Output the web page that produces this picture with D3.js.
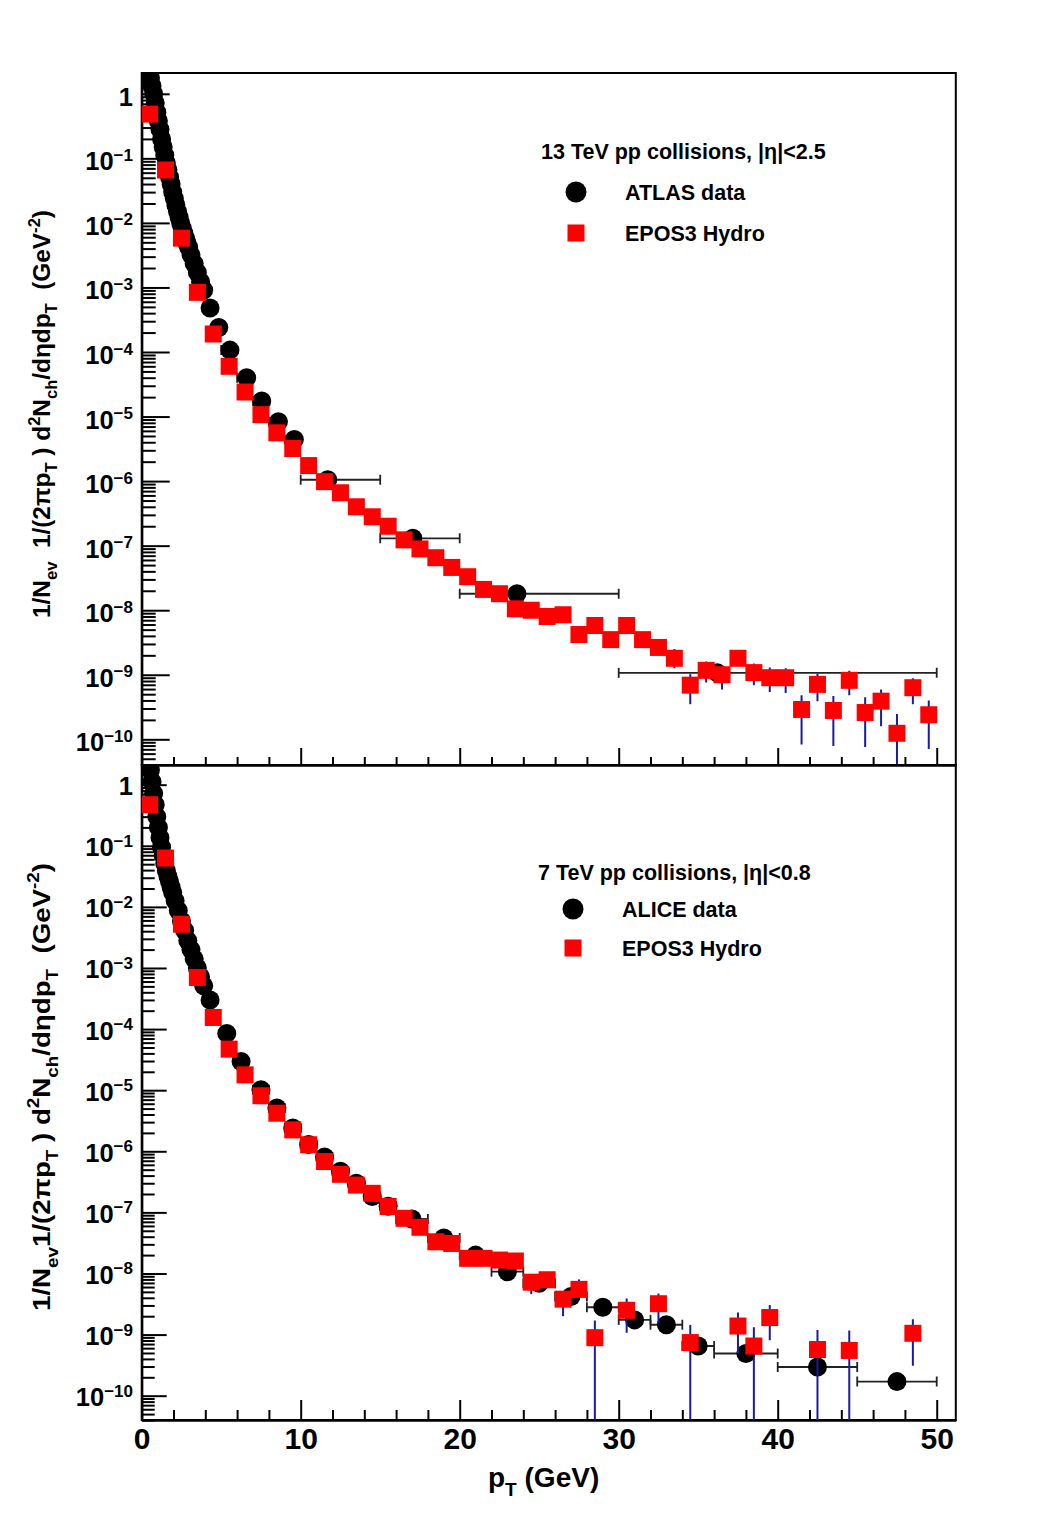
<!DOCTYPE html>
<html><head><meta charset="utf-8">
<script src="https://cdn.jsdelivr.net/npm/d3@7"></script>
<style>body{margin:0;background:#fff}svg text{white-space:pre}</style>
</head><body>
<svg id="c" width="1061" height="1536"></svg>
<script>
// ---------------- DATA ----------------
// Top panel: 13 TeV, ATLAS data (black circles) with x bin edges
const atlas_pt  = [0.55,0.65,0.75,0.85,0.95,1.05,1.15,1.25,1.35,1.45,1.55,1.65,1.75,1.85,1.95,2.05,2.15,2.25,2.35,2.45,2.55,2.65,2.75,2.85,2.95,3.1,3.3,3.5,3.7,3.9,4.3,4.85,5.55,6.6,7.55,8.6,9.6,11.7,17.05,23.6,36.2];
const atlas_val = [1.75,1.32,1.0,0.72,0.52,0.38,0.28,0.20,0.15,0.112,0.085,0.066,0.051,0.040,0.030,0.024,0.019,0.0151,0.0123,0.0100,0.0083,0.0069,0.0058,0.0049,0.0042,0.0032,0.00234,0.0017,0.00123,0.00091,4.8e-4,2.4e-4,1.07e-4,4.0e-5,1.74e-5,8.3e-6,4.4e-6,1.05e-6,1.3e-7,1.8e-8,1.07e-9];
const atlas_xlo = [0.5,0.6,0.7,0.8,0.9,1.0,1.1,1.2,1.3,1.4,1.5,1.6,1.7,1.8,1.9,2.0,2.1,2.2,2.3,2.4,2.5,2.6,2.7,2.8,2.9,3.0,3.2,3.4,3.6,3.8,4.0,4.5,5.0,6.0,7.0,8.0,9.0,10,15,20,30];
const atlas_xhi = [0.6,0.7,0.8,0.9,1.0,1.1,1.2,1.3,1.4,1.5,1.6,1.7,1.8,1.9,2.0,2.1,2.2,2.3,2.4,2.5,2.6,2.7,2.8,2.9,3.0,3.2,3.4,3.6,3.8,4.0,4.5,5.0,6.0,7.0,8.0,9.0,10,15,20,30,50];

// Top panel: EPOS3 Hydro (red squares)
const epos13_pt  = [0.5,1.5,2.5,3.5,4.5,5.5,6.5,7.5,8.5,9.5,10.5,11.5,12.5,13.5,14.5,15.5,16.5,17.5,18.5,19.5,20.5,21.5,22.5,23.5,24.5,25.5,26.5,27.5,28.5,29.5,30.5,31.5,32.5,33.5,34.5,35.5,36.5,37.5,38.5,39.5,40.5,41.5,42.5,43.5,44.5,45.5,46.5,47.5,48.5,49.5];
const epos13_val = [0.485,0.066,0.0058,8.4e-4,1.9e-4,6.0e-5,2.4e-5,1.07e-5,5.6e-6,3.2e-6,1.74e-6,9.8e-7,6.6e-7,4.0e-7,2.8e-7,2.0e-7,1.23e-7,8.9e-8,6.5e-8,4.6e-8,3.3e-8,2.1e-8,1.8e-8,1.05e-8,1.0e-8,8.0e-9,8.5e-9,4.2e-9,5.8e-9,3.5e-9,5.8e-9,3.5e-9,2.65e-9,1.8e-9,6.9e-10,1.17e-9,1.0e-9,1.8e-9,1.08e-9,9.0e-10,9.0e-10,2.9e-10,7.1e-10,2.8e-10,8.2e-10,2.6e-10,3.9e-10,1.24e-10,6.3e-10,2.4e-10];
// vertical error bars (bounds) of EPOS3 13 TeV where visible
const epos13_err_pt = [33.5,34.5,35.5,36.5,37.5,38.5,39.5,40.5,41.5,42.5,43.5,44.5,45.5,46.5,47.5,48.5,49.5];
const epos13_err_lo = [1.26e-9,3.5e-10,7.6e-10,5.9e-10,1.5e-9,6.9e-10,5.4e-10,5.2e-10,8.3e-11,3.9e-10,7.9e-11,4.8e-10,7.6e-11,1.6e-10,1e-12,3.5e-10,7.1e-11];
const epos13_err_hi = [2.5e-9,1.02e-9,1.6e-9,1.38e-9,2.2e-9,1.49e-9,1.29e-9,1.26e-9,4.8e-10,1.04e-9,4.7e-10,1.15e-9,4.5e-10,5.9e-10,2.46e-10,8.8e-10,4.0e-10];

// Bottom panel: 7 TeV, ALICE data (black circles)
const alice_pt  = [0.55,0.65,0.75,0.85,0.95,1.05,1.15,1.25,1.35,1.45,1.55,1.65,1.75,1.85,1.95,2.1,2.3,2.5,2.7,2.9,3.1,3.3,3.5,3.7,3.9,4.3,5.35,6.25,7.5,8.5,9.5,10.5,11.5,12.5,13.5,14.5,15.5,17,19,21,23,25,27,29,31,33,35,38,42.5,47.5];
const alice_val = [1.74,1.12,0.72,0.47,0.30,0.20,0.135,0.095,0.069,0.051,0.039,0.0316,0.0257,0.0209,0.017,0.0126,0.0087,0.0059,0.0041,0.0028,0.0020,0.00141,0.0010,7.1e-4,5.1e-4,3.0e-4,8.5e-5,2.95e-5,1.02e-5,5.1e-6,2.4e-6,1.29e-6,8.1e-7,4.7e-7,3.0e-7,1.82e-7,1.26e-7,7.8e-8,3.8e-8,2.0e-8,1.07e-8,6.9e-9,4.2e-9,2.8e-9,1.74e-9,1.45e-9,6.5e-10,4.9e-10,2.95e-10,1.7e-10];
const alice_xlo = [0.5,0.6,0.7,0.8,0.9,1.0,1.1,1.2,1.3,1.4,1.5,1.6,1.7,1.8,1.9,2.0,2.2,2.4,2.6,2.8,3.0,3.2,3.4,3.6,3.8,4.0,5.0,6.0,7,8,9,10,11,12,13,14,15,16,18,20,22,24,26,28,30,32,34,36,40,45];
const alice_xhi = [0.6,0.7,0.8,0.9,1.0,1.1,1.2,1.3,1.4,1.5,1.6,1.7,1.8,1.9,2.0,2.2,2.4,2.6,2.8,3.0,3.2,3.4,3.6,3.8,4.0,4.6,5.7,6.5,8,9,10,11,12,13,14,15,16,18,20,22,24,26,28,30,32,34,36,40,45,50];

// Bottom panel: EPOS3 Hydro (red squares)
const epos7_pt  = [0.5,1.5,2.5,3.5,4.5,5.5,6.5,7.5,8.5,9.5,10.5,11.5,12.5,13.5,14.5,15.5,16.5,17.5,18.5,19.5,20.5,21.5,22.5,23.5,24.5,25.5,26.5,27.5,28.5,30.5,32.5,34.5,37.5,38.5,39.5,42.5,44.5,48.5];
const epos7_val = [0.47,0.063,5.2e-3,7.0e-4,1.55e-4,4.7e-5,1.78e-5,8.1e-6,4.2e-6,2.24e-6,1.28e-6,6.8e-7,4.2e-7,2.8e-7,2.05e-7,1.25e-7,8.0e-8,5.7e-8,3.3e-8,3.1e-8,1.77e-8,1.77e-8,1.66e-8,1.6e-8,7.2e-9,7.9e-9,3.8e-9,5.5e-9,8.9e-10,2.5e-9,3.2e-9,7.4e-10,1.38e-9,6.5e-10,1.9e-9,5.7e-10,5.5e-10,1.05e-9];
const epos7_err_pt = [24.5,26.5,27.5,28.5,30.5,32.5,34.5,37.5,38.5,39.5,42.5,44.5,48.5];
const epos7_err_lo = [4.6e-9,2.0e-9,4.5e-9,1e-12,1.07e-9,1.53e-9,1e-12,4.9e-10,1e-12,8.1e-10,1e-12,1e-12,3.1e-10];
const epos7_err_hi = [7.2e-9,4.5e-9,8.0e-9,1.7e-9,3.9e-9,4.7e-9,1.44e-9,2.3e-9,1.32e-9,3.05e-9,1.19e-9,1.17e-9,1.78e-9];

// Axis ticks / labels
const xTickValues = [0,10,20,30,40,50];
const xMinorValues = [2,4,6,8,12,14,16,18,22,24,26,28,32,34,36,38,42,44,46,48];
const yTickExponents = [0,-1,-2,-3,-4,-5,-6,-7,-8,-9,-10];
const legendTop = ["13 TeV pp collisions, |\u03b7|<2.5","ATLAS data","EPOS3 Hydro"];
const legendBottom = ["7 TeV pp collisions, |\u03b7|<0.8","ALICE data","EPOS3 Hydro"];
const xTitle = [{t:"p"},{t:"T",sub:true},{t:" (GeV)"}];
const yTitleTop = [{t:"1/N"},{t:"ev",sub:true},{t:"  1/(2\u03c0p"},{t:"T",sub:true},{t:" ) d"},{t:"2",sup:true},{t:"N"},{t:"ch",sub:true},{t:"/d\u03b7dp"},{t:"T",sub:true},{t:"  (GeV"},{t:"-2",sup:true},{t:")"}];
const yTitleBottom = [{t:"1/N"},{t:"ev",sub:true},{t:"1/(2\u03c0p"},{t:"T",sub:true},{t:" ) d"},{t:"2",sup:true},{t:"N"},{t:"ch",sub:true},{t:"/d\u03b7dp"},{t:"T",sub:true},{t:"  (GeV"},{t:"-2",sup:true},{t:")"}];

// ---------------- DRAWING ----------------
const FONT = "'Liberation Sans', Arial, Helvetica, sans-serif";
const BLUE = "#1a1aa6";
const svg = d3.select('#c');
svg.append('rect').attr('width',1061).attr('height',1536).attr('fill','#fff');

const X0 = 141.7, X1 = 955.8;
const x = d3.scaleLinear().domain([0, 51.2]).range([X0, X1]);
const yDomain = [4e-11, 2.1];

function rich(textSel, segs, size) {
  let cur = 0;
  segs.forEach(s => {
    const target = s.sub ? size*0.32 : (s.sup ? -size*0.45 : 0);
    const ts = textSel.append('tspan').text(s.t).attr('dy', target - cur);
    if (s.sub || s.sup) ts.attr('font-size', size*0.68);
    cur = target;
  });
}

function panel(p) {
  const y = d3.scaleLog().domain(yDomain).range([p.bottom, p.top]);
  const g = svg.append('g');
  const clipId = 'clip' + p.id;
  svg.append('clipPath').attr('id', clipId).append('rect')
    .attr('x', X0).attr('y', p.top).attr('width', X1 - X0).attr('height', p.bottom - p.top);

  // y axis
  const majors = yTickExponents.map(e => Math.pow(10, e));
  const minors = [];
  for (let k = -11; k <= 0; k++) for (let m = 2; m <= 9; m++) {
    const v = m * Math.pow(10, k);
    if (v >= yDomain[0] && v <= yDomain[1]) minors.push(v);
  }
  const ya1 = g.append('g').attr('transform', `translate(${X0},0)`)
    .call(d3.axisLeft(y).tickValues(minors).tickSize(-p.yMin).tickSizeOuter(0).tickFormat(''));
  const ya2 = g.append('g').attr('transform', `translate(${X0},0)`)
    .call(d3.axisLeft(y).tickValues(majors).tickSize(-p.yMaj).tickSizeOuter(0).tickFormat(''));
  // x axis
  const xa1 = g.append('g').attr('transform', `translate(0,${p.bottom})`)
    .call(d3.axisBottom(x).tickValues(xMinorValues).tickSize(-p.xMin).tickSizeOuter(0).tickFormat(''));
  const xa2 = g.append('g').attr('transform', `translate(0,${p.bottom})`)
    .call(d3.axisBottom(x).tickValues(xTickValues).tickSize(-p.xMaj).tickSizeOuter(0).tickPadding(8)
      .tickFormat(p.xLabels ? d3.format('d') : ''));
  [ya1, ya2, xa1, xa2].forEach(a => {
    a.selectAll('line').attr('stroke', '#000').attr('stroke-width', 2);
    a.select('.domain').attr('stroke', '#000').attr('stroke-width', 2);
  });
  xa2.selectAll('text').attr('font-family', FONT).attr('font-weight', 'bold')
    .attr('font-size', 30).attr('fill', '#000');

  // frame
  g.append('rect').attr('x', X0).attr('y', p.top).attr('width', X1 - X0).attr('height', p.bottom - p.top)
    .attr('fill', 'none').attr('stroke', '#000').attr('stroke-width', 2);

  // y labels
  yTickExponents.forEach(e => {
    const t = g.append('text').attr('x', 133).attr('y', y(Math.pow(10, e)) + p.labOff)
      .attr('text-anchor', 'end').attr('font-family', FONT).attr('font-weight', 'bold')
      .attr('font-size', 25.5).attr('fill', '#000');
    if (e === 0) t.text('1');
    else {
      t.append('tspan').text('10');
      t.append('tspan').text('\u2212' + Math.abs(e)).attr('font-size', 17).attr('dy', -9.5);
    }
  });

  // y title
  const yt = g.append('text').attr('transform', `translate(50,${p.titleY}) rotate(-90)`)
    .attr('text-anchor', 'middle').attr('font-family', FONT).attr('font-weight', 'bold')
    .attr('font-size', p.titleSize).attr('fill', '#000')
    .attr('textLength', p.titleLen).attr('lengthAdjust', 'spacingAndGlyphs');
  rich(yt, p.title, p.titleSize);

  const dg = g.append('g').attr('clip-path', `url(#${clipId})`);
  // data x error bars
  const d = d3.range(p.dpt.length);
  dg.selectAll('line.xe').data(d).join('line').attr('class', 'xe')
    .attr('x1', i => x(p.dxlo[i])).attr('x2', i => x(p.dxhi[i]))
    .attr('y1', i => y(p.dval[i])).attr('y2', i => y(p.dval[i]))
    .attr('stroke', '#222').attr('stroke-width', 1.8);
  ['dxlo', 'dxhi'].forEach(k => {
    dg.selectAll('line.cap' + k).data(d).join('line').attr('class', 'cap' + k)
      .attr('x1', i => x(p[k][i])).attr('x2', i => x(p[k][i]))
      .attr('y1', i => y(p.dval[i]) - 5).attr('y2', i => y(p.dval[i]) + 5)
      .attr('stroke', '#222').attr('stroke-width', 1.8);
  });
  dg.selectAll('circle.dp').data(d).join('circle').attr('class', 'dp')
    .attr('cx', i => x(p.dpt[i])).attr('cy', i => y(p.dval[i])).attr('r', 9.5).attr('fill', '#000');
  // model error bars
  const e = d3.range(p.ept.length);
  dg.selectAll('line.ye').data(e).join('line').attr('class', 'ye')
    .attr('x1', i => x(p.ept[i])).attr('x2', i => x(p.ept[i]))
    .attr('y1', i => y(Math.max(p.elo[i], yDomain[0] / 10))).attr('y2', i => y(p.ehi[i]))
    .attr('stroke', BLUE).attr('stroke-width', 2);
  const m = d3.range(p.mpt.length);
  dg.selectAll('rect.mp').data(m).join('rect').attr('class', 'mp')
    .attr('x', i => x(p.mpt[i]) - 8.5).attr('y', i => y(p.mval[i]) - 8.5)
    .attr('width', 17).attr('height', 17).attr('fill', '#ff0000');

  // legend
  const L = p.leg;
  g.append('text').attr('x', L.x).attr('y', L.y0).text(p.legText[0])
    .attr('font-family', FONT).attr('font-weight', 'bold').attr('font-size', 21.5).attr('fill', '#000');
  g.append('circle').attr('cx', L.mx).attr('cy', L.y1).attr('r', 10.5).attr('fill', '#000');
  g.append('text').attr('x', L.tx).attr('y', L.y1 + 7.5).text(p.legText[1])
    .attr('font-family', FONT).attr('font-weight', 'bold').attr('font-size', 21.5).attr('fill', '#000');
  g.append('rect').attr('x', L.mx - 8.5).attr('y', L.y2 - 8.5).attr('width', 17).attr('height', 17).attr('fill', '#ff0000');
  g.append('text').attr('x', L.tx).attr('y', L.y2 + 7.5).text(p.legText[2])
    .attr('font-family', FONT).attr('font-weight', 'bold').attr('font-size', 21.5).attr('fill', '#000');
}

panel({id: 't', top: 73, bottom: 765, yMaj: 28, yMin: 14, xMaj: 17, xMin: 8, xLabels: false, labOff: 12,
  title: yTitleTop, titleY: 414, titleSize: 23, titleLen: 408,
  dpt: atlas_pt, dval: atlas_val, dxlo: atlas_xlo, dxhi: atlas_xhi,
  mpt: epos13_pt, mval: epos13_val, ept: epos13_err_pt, elo: epos13_err_lo, ehi: epos13_err_hi,
  leg: {x: 541, y0: 158.5, mx: 576, tx: 625, y1: 192, y2: 233}, legText: legendTop});

panel({id: 'b', top: 765, bottom: 1420, yMaj: 25, yMin: 13, xMaj: 20, xMin: 10, xLabels: true, labOff: 10.5,
  title: yTitleBottom, titleY: 1087, titleSize: 24, titleLen: 448,
  dpt: alice_pt, dval: alice_val, dxlo: alice_xlo, dxhi: alice_xhi,
  mpt: epos7_pt, mval: epos7_val, ept: epos7_err_pt, elo: epos7_err_lo, ehi: epos7_err_hi,
  leg: {x: 538, y0: 879.5, mx: 573, tx: 622, y1: 909, y2: 948}, legText: legendBottom});

// x title
const xt = svg.append('text').attr('x', 488).attr('y', 1487).attr('font-family', FONT)
  .attr('font-weight', 'bold').attr('font-size', 28).attr('fill', '#000');
rich(xt, xTitle, 28);
</script>
</body></html>
